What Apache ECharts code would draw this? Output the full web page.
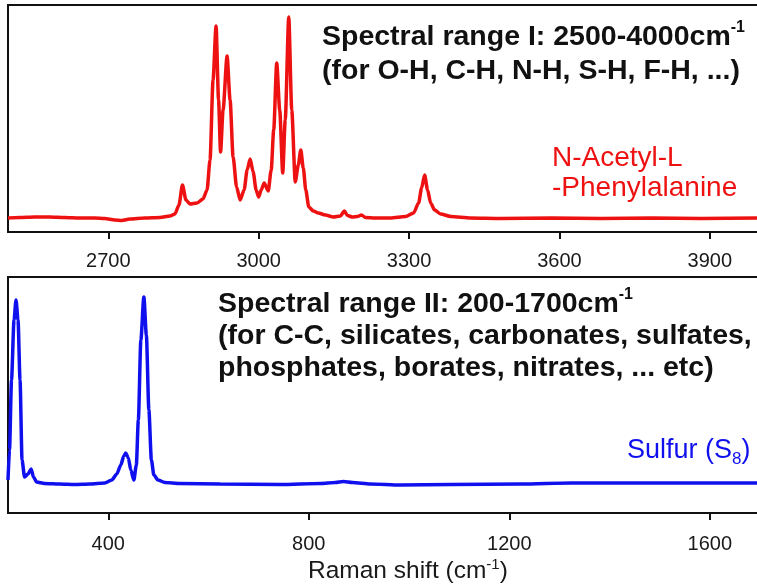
<!DOCTYPE html>
<html><head><meta charset="utf-8">
<script src="https://cdn.jsdelivr.net/npm/echarts@6/dist/echarts.min.js"></script>
<style>html,body{margin:0;padding:0;background:#fff}#c{width:757px;height:588px}</style>
</head><body><div id="c"></div>
<script>
// Range I: N-Acetyl-L-Phenylalanine (Raman shift cm-1, relative intensity)
const topShift = [2500,2523,2553,2583,2613,2643,2673,2693,2713,2727,2743,2773,2803,2823,2833,2841,2848,2855,2863,2877,2889,2897,2903,2909,2915,2920,2924,2929,2937,2943,2949,2956,2963,2971,2977,2983,2989,2995,3000,3005,3011,3019,3025,3030,3036,3042,3048,3053,3060,3066,3073,3079,3084,3089,3094,3100,3109,3119,3133,3149,3163,3171,3177,3187,3197,3205,3213,3233,3263,3293,3309,3319,3325,3331,3337,3343,3351,3363,3383,3423,3483,3583,3683,3783,3883,4000];
const topIntensity = [14,14.5,15,15,14.5,14,14,13.5,12,11.5,13,14,14.5,16,18,27,47,32,28,29,33,42,72,152,206,132,80,122,176,132,75,45,32,42,62,73,60,42,35,42,49,41,62,102,169,122,59,112,215,122,50,67,82,64,42,25,21,19,17,15,16,21,16.5,15,15.5,17,14.5,14,14,15.5,19,29,44,57,42,29,22,18,15.5,14,13.5,14,13.5,14,13.5,14];
// Range II: Sulfur (S8)
const bottomShift = [200,203,207,212,216,220,224,228,233,240,246,251,257,273,303,333,363,393,407,417,425,431,435,440,445,451,456,460,465,471,476,481,486,491,499,513,543,623,743,823,853,869,887,923,983,1083,1223,1323,1483,1700];
const bottomIntensity = [33,63,133,193,213,193,133,53,36,39,44,36,31,29.5,29,28.5,29,30,33,39,48,57,60,55,43,33,48,93,173,216,178,103,53,38,33,30.5,29.5,29,28.5,29.5,30.5,31.5,30.5,29,28,28.5,29,30,30,30];
const topTicks = [2700, 3000, 3300, 3600, 3900];
const bottomTicks = [400, 800, 1200, 1600];
const topTitle = ['Spectral range I: 2500-4000cm', '(for O-H, C-H, N-H, S-H, F-H, ...)'];
const bottomTitle = ['Spectral range II: 200-1700cm', '(for C-C, silicates, carbonates, sulfates,', 'phosphates, borates, nitrates, ... etc)'];
const topSample = ['N-Acetyl-L', '-Phenylalanine'];
const bottomSample = ['Sulfur (S', '8', ')'];
const xName = 'Raman shift (cm';

const FONT = '"Liberation Sans", Arial, Helvetica, sans-serif';
const RED = '#ee1111', BLUE = '#1010ee';

function pairs(xs, ys) { return xs.map((v, i) => [v, ys[i]]); }

const chart = echarts.init(document.getElementById('c'), null, {renderer: 'canvas'});

function xAx(idx, min, max, ticks, margin) {
  return {
    type: 'value', gridIndex: idx, min: min, max: max,
    axisLine: {show: false},
    axisTick: {show: true, inside: false, length: 7, customValues: ticks, lineStyle: {color: '#111', width: 2}},
    axisLabel: {show: true, customValues: ticks, margin: margin, fontSize: 20, color: '#1a1a1a', fontFamily: FONT,
                formatter: v => String(v)},
    splitLine: {show: false}
  };
}
function bold(x, y, t, sup) {
  const rich = {b: {fontSize: 28.5, fontWeight: 'bold', fontFamily: FONT, fill: '#111', lineHeight: 34},
                s: {fontSize: 16, fontWeight: 'bold', fontFamily: FONT, fill: '#111', lineHeight: 16, verticalAlign: 'top'}};
  return {type: 'text', x: x, y: y, silent: true,
    style: {text: '{b|' + t + '}' + (sup ? '{s|' + sup + '}' : ''), rich: rich, verticalAlign: 'middle', align: 'left'}};
}
function plain(x, y, t, color, size) {
  return {type: 'text', x: x, y: y, silent: true,
    style: {text: t, fontSize: size, fontFamily: FONT, fill: color, verticalAlign: 'middle', align: 'left'}};
}

const option = {
  animation: false,
  backgroundColor: '#fff',
  grid: [
    {left: 8, top: 5, width: 753, height: 227, show: true, borderColor: '#111', borderWidth: 2, containLabel: false, outerBoundsMode: 'none'},
    {left: 8, top: 277, width: 753, height: 236, show: true, borderColor: '#111', borderWidth: 2, containLabel: false, outerBoundsMode: 'none'}
  ],
  xAxis: [xAx(0, 2500, 4002, topTicks, 19), xAx(1, 200, 1702, bottomTicks, 21)],
  yAxis: [
    {type: 'value', gridIndex: 0, min: 0, max: 227, show: false},
    {type: 'value', gridIndex: 1, min: 0, max: 236, show: false}
  ],
  series: [
    {type: 'line', xAxisIndex: 0, yAxisIndex: 0, data: pairs(topShift, topIntensity), showSymbol: false, smooth: 0.25, smoothMonotone: 'x',
     lineStyle: {color: RED, width: 3.5}, itemStyle: {color: RED}},
    {type: 'line', xAxisIndex: 1, yAxisIndex: 1, data: pairs(bottomShift, bottomIntensity), showSymbol: false, smooth: 0.25, smoothMonotone: 'x',
     lineStyle: {color: BLUE, width: 3.5}, itemStyle: {color: BLUE}}
  ],
  graphic: [
    bold(322, 37, topTitle[0], '-1'),
    bold(322, 71, topTitle[1]),
    plain(552, 158, topSample[0], RED, 28),
    plain(552, 188, topSample[1], RED, 28),
    bold(218, 304, bottomTitle[0], '-1'),
    bold(218, 336, bottomTitle[1]),
    bold(218, 368, bottomTitle[2]),
    {type: 'text', x: 627, y: 451, silent: true,
     style: {text: '{a|' + bottomSample[0] + '}{s|' + bottomSample[1] + '}{a|' + bottomSample[2] + '}', verticalAlign: 'middle', align: 'left',
       rich: {a: {fontSize: 27, fontFamily: FONT, fill: BLUE, lineHeight: 34},
              s: {fontSize: 17, fontFamily: FONT, fill: BLUE, lineHeight: 17, verticalAlign: 'bottom'}}}},
    {type: 'text', x: 308, y: 571, silent: true,
     style: {text: '{a|' + xName + '}{s|-1}{a|)}', verticalAlign: 'middle', align: 'left',
       rich: {a: {fontSize: 24.5, fontFamily: FONT, fill: '#1a1a1a', lineHeight: 28},
              s: {fontSize: 15, fontFamily: FONT, fill: '#1a1a1a', lineHeight: 15, verticalAlign: 'top'}}}}
  ]
};
chart.setOption(option);
</script>
</body></html>
